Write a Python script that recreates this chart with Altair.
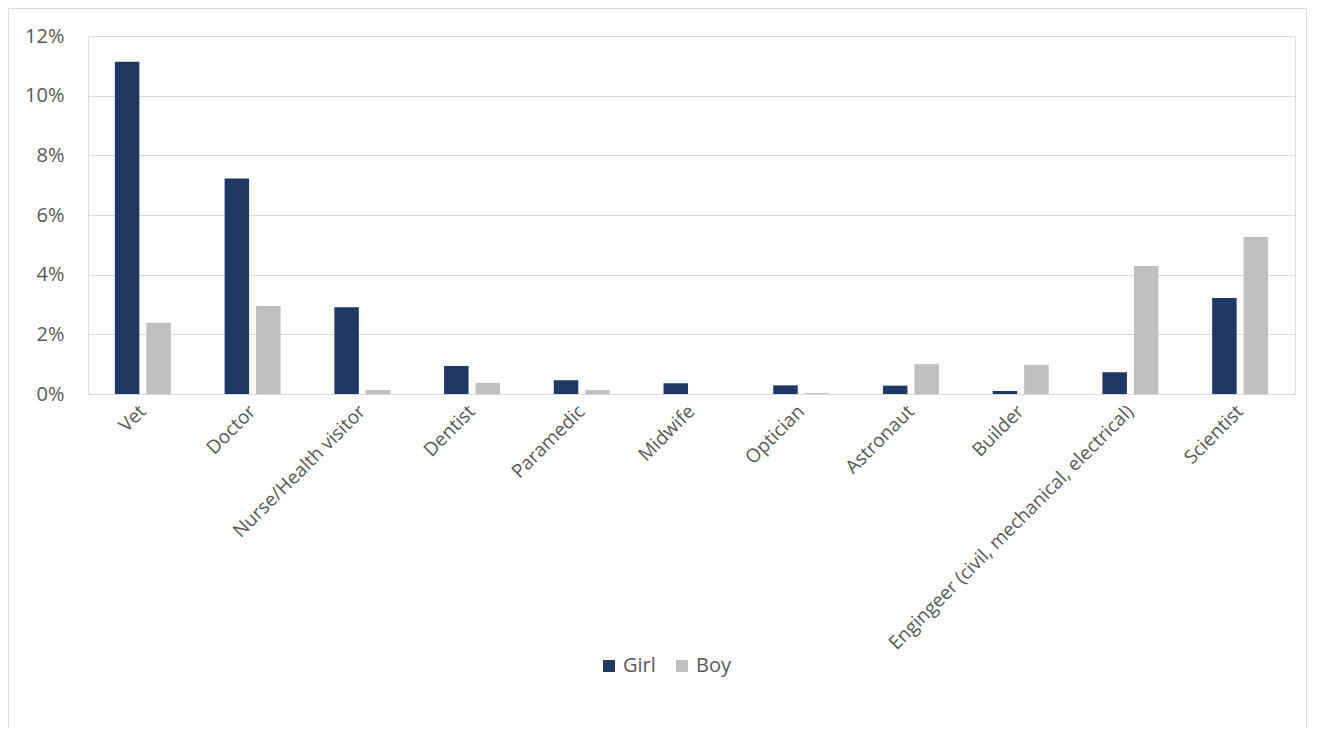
import altair as alt
import pandas as pd

categories = ["Vet", "Doctor", "Nurse/Health visitor", "Dentist", "Paramedic", "Midwife",
              "Optician", "Astronaut", "Builder", "Engingeer (civil, mechanical, electrical)", "Scientist"]
girl = [0.1114, 0.0722, 0.0291, 0.0094, 0.0046, 0.0036, 0.0029, 0.0028, 0.0010, 0.0073, 0.0322]
boy = [0.0239, 0.0295, 0.0013, 0.0037, 0.0013, 0.0000, 0.0003, 0.0100, 0.0098, 0.0429, 0.0526]
series = ["Girl", "Boy"]
colors = ["#203864", "#bfbfbf"]
y_ticks = [0, 0.02, 0.04, 0.06, 0.08, 0.10, 0.12]

rows = []
for c, g, b in zip(categories, girl, boy):
    rows.append({"job": c, "gender": "Girl", "value": g})
    rows.append({"job": c, "gender": "Boy", "value": b})
df = pd.DataFrame(rows)

FONT = "Open Sans"
TXT = "#595959"

bars = alt.Chart(df).mark_bar().encode(
    x=alt.X("job:N", sort=categories, title=None,
            scale=alt.Scale(paddingInner=0.49, paddingOuter=0.245),
            axis=alt.Axis(labelAngle=-45, labelAlign="right", labelBaseline="middle",
                          labelPadding=14, labelFontSize=19, labelFont=FONT, labelColor=TXT,
                          ticks=False, domain=True, domainColor="#d9d9d9", domainWidth=1,
                          labelLimit=500, labelOverlap=False)),
    xOffset=alt.XOffset("gender:N", sort=series,
                        scale=alt.Scale(domain=series, paddingInner=0.222, paddingOuter=0)),
    y=alt.Y("value:Q", title=None,
            scale=alt.Scale(domain=[0, 0.12], nice=False),
            axis=alt.Axis(values=y_ticks, format=".0%", labelFontSize=20, labelFont=FONT,
                          labelColor=TXT, labelPadding=24, ticks=False, domain=False,
                          gridColor="#d9d9d9", gridWidth=1)),
    color=alt.Color("gender:N", sort=series,
                    scale=alt.Scale(domain=series, range=colors),
                    legend=alt.Legend(title=None, orient="none", direction="horizontal",
                                      legendX=511, legendY=620, symbolType="square",
                                      symbolSize=144, symbolStrokeWidth=0, labelFontSize=20,
                                      labelFont=FONT, labelColor=TXT, columnPadding=16,
                                      labelOffset=4, padding=0)),
)

border = alt.Chart(pd.DataFrame({"a": [0]})).mark_rect(
    filled=False, stroke="#d9d9d9", strokeWidth=1
).encode(x=alt.value(-79.5), x2=alt.value(1218.5), y=alt.value(-27.5), y2=alt.value(760))

chart = alt.layer(bars, border).properties(
    width=1207, height=358,
    padding={"left": 80, "top": 28, "right": 12, "bottom": 334},
    autosize=alt.AutoSizeParams(type="none"),
).configure_view(stroke=None).configure(background="white")

chart.save("out.html", embed_options={"renderer": "svg", "actions": False})
